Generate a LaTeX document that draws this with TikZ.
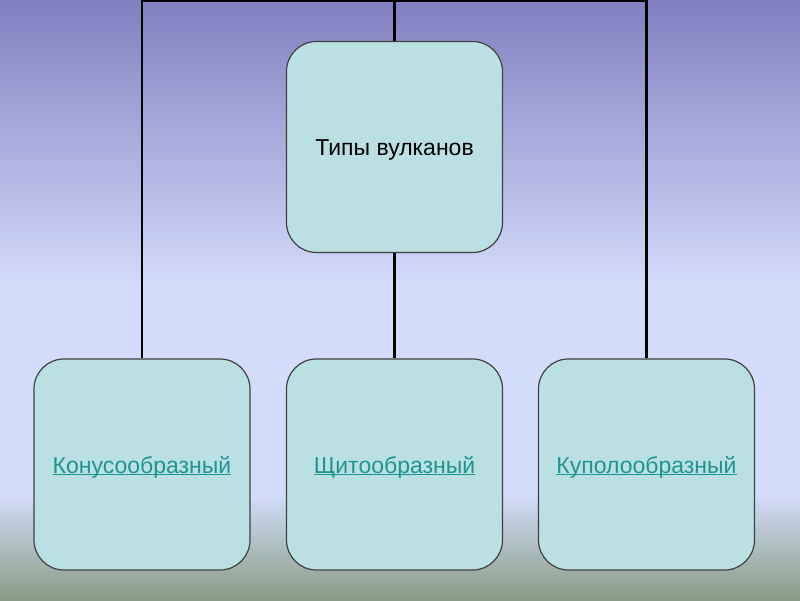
\documentclass[tikz,border=0pt]{standalone}
\usepackage{fontspec}
\setmainfont{Liberation Sans}
\usepackage{tikz}
\usetikzlibrary{positioning}

\definecolor{cieloalto}{HTML}{8080C0}
\definecolor{cielomedio}{HTML}{D4DCFB}
\definecolor{terreno}{HTML}{8A9C84}
\definecolor{riempimento}{HTML}{BBE0E3}
\definecolor{collegamento}{HTML}{1E9590}

\begin{document}
\begin{tikzpicture}[
          x=1pt, y=1pt,
          % Stile dei blocchi arrotondati
          blocco/.style={
              draw=black!75,
              fill=riempimento,
              rectangle,
              rounded corners=30pt,
              minimum width=216pt,
              minimum height=211pt,
              line width=1.2pt,
              font=\fontsize{23}{27}\selectfont,
              text height=17pt,
              text depth=0pt,
              align=center
          },
          % Stile per il testo dei collegamenti
          link/.style={
              text=collegamento
          },
          % Stile delle linee di collegamento
          linea/.style={
              line width=2.5pt,
              black
          }
      ]
          % 0. Sfondo sfumato
          \useasboundingbox (0,0) rectangle (800,600);
          \shade [top color=cieloalto, bottom color=cielomedio] (0,310) rectangle (800,600);
          \fill [cielomedio] (0,105) rectangle (800,311);
          \shade [top color=cielomedio, bottom color=terreno] (0,0) rectangle (800,106);

          % 1. Blocco centrale (Tipi di vulcani)
          \node [blocco] (tipi) at (394.5,453) {Типы вулканов};

          % 2. Blocchi inferiori
          \node [blocco, link] (conico) at (142,135.5) {\underline{\smash{Конусообразный}}};
          \node [blocco, link] (scudo) at (394.5,135.5) {\underline{\smash{Щитообразный}}};
          \node [blocco, link] (cupola) at (646.5,135.5) {\underline{\smash{Куполообразный}}};

          % 3. Linea superiore
          \coordinate (binario) at (394.5,599);
          \draw [linea] (conico.north) |- (binario) -| (cupola.north);
          \draw [linea] (tipi.north) -- (tipi.north |- binario);

          % 4. Linea centrale
          \draw [linea] (tipi.south) -- (scudo.north);

      \end{tikzpicture}
\end{document}
